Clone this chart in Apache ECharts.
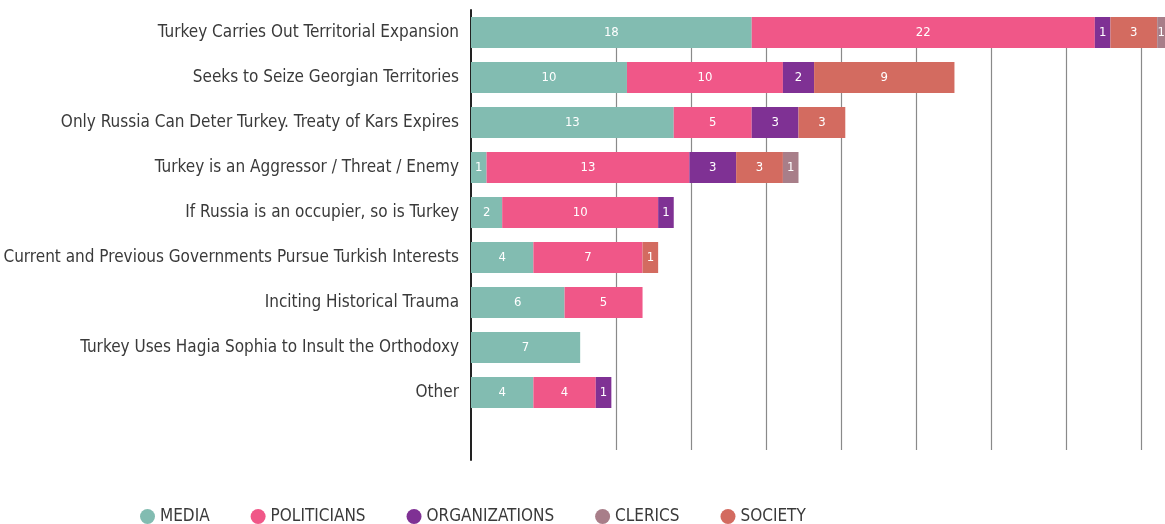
<!DOCTYPE html>
<html lang="en">
<head>
    <meta charset="UTF-8">
    <title>Narratives about Turkey</title>
    <style>
        html, body { margin: 0; padding: 0; background: #fff; }
        #chart { width: 1165px; height: 524px; }
    </style>
</head>
<body>
<div id="chart"></div>
<script src="https://cdn.jsdelivr.net/npm/echarts@6/dist/echarts.min.js"></script>
<script>
    const categories = [
        'Turkey Carries Out Territorial Expansion',
        'Seeks to Seize Georgian Territories',
        'Only Russia Can Deter Turkey. Treaty of Kars Expires',
        'Turkey is an Aggressor / Threat / Enemy',
        'If Russia is an occupier, so is Turkey',
        'Current and Previous Governments Pursue Turkish Interests',
        'Inciting Historical Trauma',
        'Turkey Uses Hagia Sophia to Insult the Orthodoxy',
        'Other'
    ];
    const media         = [18, 10, 13, 1, 2, 4, 6, 7, 4];
    const politicians   = [22, 10, 5, 13, 10, 7, 5, 0, 4];
    const organizations = [1, 2, 3, 3, 1, 0, 0, 0, 1];
    const society       = [3, 9, 3, 3, 0, 1, 0, 0, 0];
    const clerics       = [1, 0, 0, 1, 0, 0, 0, 0, 0];

    const font = '"Liberation Sans Narrow", "DejaVu Sans Condensed", sans-serif';

    // stacking order differs from legend order
    const stack = [
        { name: 'MEDIA', data: media, color: '#82bcb1' },
        { name: 'POLITICIANS', data: politicians, color: '#f05788' },
        { name: 'ORGANIZATIONS', data: organizations, color: '#7f3194' },
        { name: 'SOCIETY', data: society, color: '#d36b60' },
        { name: 'CLERICS', data: clerics, color: '#a87e89' }
    ];

    const chart = echarts.init(document.getElementById('chart'));
    chart.setOption({
        animation: false,
        legend: {
            data: ['MEDIA', 'POLITICIANS', 'ORGANIZATIONS', 'CLERICS', 'SOCIETY'],
            left: 135,
            bottom: -6,
            icon: 'circle',
            itemWidth: 15,
            itemHeight: 15,
            itemGap: 41,
            textStyle: { fontFamily: font, fontSize: 17, color: '#3a3a3a' }
        },
        grid: [
            { left: 471, right: 0, top: 10, bottom: 64 },
            { left: 541, right: 0, top: 17, bottom: 74 }
        ],
        xAxis: [
            {
                type: 'value', gridIndex: 0, min: 0, max: 44.5,
                axisLine: { show: false }, axisTick: { show: false },
                axisLabel: { show: false }, splitLine: { show: false }
            },
            {
                type: 'value', gridIndex: 1, min: 0, max: 8.32, interval: 1,
                axisLine: { show: false }, axisTick: { show: false },
                axisLabel: { show: false },
                splitLine: {
                    show: true, showMinLine: false, showMaxLine: false,
                    lineStyle: { color: '#8a8a8a', width: 1.2 }
                }
            }
        ],
        yAxis: [
            {
                type: 'category', gridIndex: 0, inverse: true,
                data: categories.concat(['']),
                axisLine: { show: true, lineStyle: { color: '#222', width: 2 } },
                axisTick: { show: false },
                axisLabel: { fontFamily: font, fontSize: 17, color: '#3a3a3a', margin: 12 }
            },
            {
                type: 'category', gridIndex: 1, data: [''],
                axisLine: { show: false }, axisTick: { show: false }, axisLabel: { show: false }
            }
        ],
        series: stack.map(s => ({
            name: s.name,
            type: 'bar',
            stack: 'total',
            barWidth: 31,
            data: s.data,
            itemStyle: { color: s.color },
            label: {
                show: true,
                color: '#fff',
                fontFamily: font,
                fontSize: 13,
                formatter: p => (p.value ? p.value : '')
            }
        }))
    });
</script>
</body>
</html>
